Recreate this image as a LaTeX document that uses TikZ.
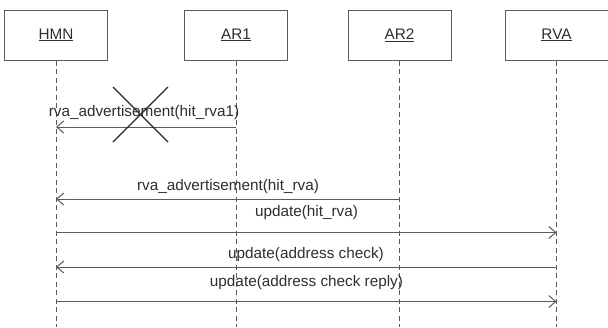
\documentclass[tikz,border=0pt]{standalone}
\usepackage{fontspec}
\setmainfont{Liberation Sans}
\usetikzlibrary{arrows.meta}
\definecolor{linegray}{HTML}{5A5A5A}
\definecolor{textgray}{HTML}{2E2E2E}
\begin{document}
\begin{tikzpicture}[x=1pt,y=-1pt,
  actor/.style={draw=linegray,line width=1pt,fill=white,minimum width=103pt,minimum height=50pt,
    inner sep=0pt,font=\fontsize{15.3}{17}\selectfont,text=textgray},
  lifeline/.style={draw=linegray,line width=1pt,dash pattern=on 5pt off 3.5pt},
  msg/.style={draw=linegray,line width=1pt,-{Straight Barb[length=7pt,width=12pt,line width=1pt]}},
  msglabel/.style={font=\fontsize{15.3}{17}\selectfont,text=textgray,inner sep=0pt},
  crossline/.style={draw=black!85,line width=1.2pt}]
\useasboundingbox (0,0) rectangle (608,327);

% participants
\node[actor] (hmn) at (56,35) {\underline{HMN}};
\node[actor] (ar1) at (236,35) {\underline{AR1}};
\node[actor] (ar2) at (399.5,35) {\underline{AR2}};
\node[actor] (rva) at (556.5,35) {\underline{RVA}};

% bottom ends of the lifelines
\coordinate (hmnend) at (56,327);
\coordinate (ar1end) at (236,327);
\coordinate (ar2end) at (399.5,327);
\coordinate (rvaend) at (556.5,327);

% message heights
\coordinate (m1) at (0,127);
\coordinate (m2) at (0,199);
\coordinate (m3) at (0,232.5);
\coordinate (m4) at (0,267);
\coordinate (m5) at (0,301.5);

% lifelines
\draw[lifeline] (hmn.south) -- (hmnend);
\draw[lifeline] (ar1.south) -- (ar1end);
\draw[lifeline] (ar2.south) -- (ar2end);
\draw[lifeline] (rva.south) -- (rvaend);

% messages
\draw[msg] (ar1.south |- m1) -- (hmn.south |- m1);
\draw[msg] (ar2.south |- m2) -- (hmn.south |- m2);
\draw[msg] (hmn.south |- m3) -- (rva.south |- m3);
\draw[msg] (rva.south |- m4) -- (hmn.south |- m4);
\draw[msg] (hmn.south |- m5) -- (rva.south |- m5);

% message labels
\node[msglabel] (l1) at (144,113) {rva\_advertisement(hit\_rva1)};
\node[msglabel] (l2) at (228,186.5) {rva\_advertisement(hit\_rva)};
\node[msglabel] (l3) at (306.5,213) {update(hit\_rva)};
\node[msglabel] (l4) at (306,255) {update(address check)};
\node[msglabel] (l5) at (306.5,282.5) {update(address check reply)};

% the first advertisement is struck out
\coordinate (x1) at (113,87);
\coordinate (x2) at (168,142);
\coordinate (x3) at (168,87);
\coordinate (x4) at (113,142);
\draw[crossline] (x1) -- (x2);
\draw[crossline] (x3) -- (x4);
\end{tikzpicture}
\end{document}
